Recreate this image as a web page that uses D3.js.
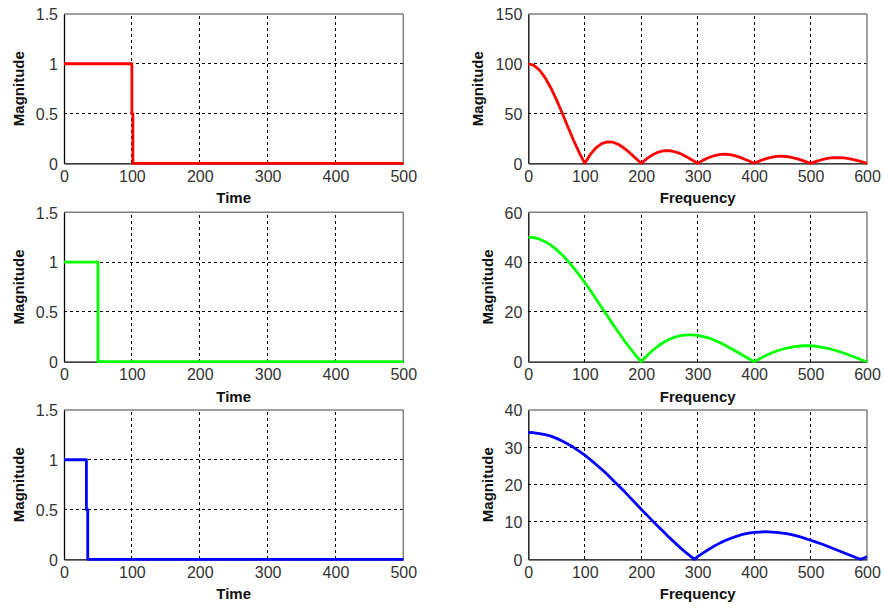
<!DOCTYPE html>
<html><head><meta charset="utf-8">
<script src="https://cdn.jsdelivr.net/npm/d3@7"></script>
<style>
html,body{margin:0;padding:0;background:#fff;}
svg{display:block;}
</style></head>
<body>
<svg id="c" width="885" height="609"></svg>
<script>
// ---------- data ----------
const timeTicks = [0,100,200,300,400,500];
const freqTicks = [0,100,200,300,400,500,600];
const timeYTicks = [0,0.5,1,1.5];
const timeYLabels = ["0","0.5","1","1.5"];

// time-domain pulses (knots)
const timeA = [0,100,100,101.5,101.5,500];
const pulseA = [1,1,0.5,0.5,0,0];
const timeB = [0,50,50,500];
const pulseB = [1,1,0,0];
const timeC = [0,33,33,35,35,500];
const pulseC = [1,1,0.5,0.5,0,0];

// spectra
const freqAB = [0,10,20,30,40,50,60,70,80,90,100,110,120,130,140,150,160,170,180,190,200,
  210,220,230,240,250,260,270,280,290,300,310,320,330,340,350,360,370,380,390,400,
  410,420,430,440,450,460,470,480,490,500,510,520,530,540,550,560,570,580,590,600];
const magA = [100,98.4,93.5,85.8,75.7,63.7,50.5,36.8,23.4,10.9,0,
  8.9,15.6,19.8,21.6,21.2,18.9,15.1,10.4,5.2,0,
  4.7,8.5,11.2,12.6,12.7,11.6,9.5,6.7,3.4,0,
  3.2,5.8,7.8,8.9,9.1,8.4,7.0,4.9,2.5,0,
  2.4,4.5,6.0,6.9,7.1,6.6,5.5,3.9,2.0,0,
  1.9,3.6,4.9,5.6,5.8,5.4,4.5,3.2,1.7,0];
const magB = [50,49.8,49.2,48.2,46.8,45.0,42.9,40.5,37.8,34.9,31.8,
  28.6,25.2,21.8,18.4,15.0,11.7,8.5,5.5,2.6,0,
  2.4,4.5,6.3,7.8,9.0,9.9,10.5,10.8,10.8,10.6,
  10.1,9.5,8.6,7.6,6.4,5.2,3.9,2.6,1.3,0,
  1.2,2.4,3.4,4.3,5.0,5.6,6.0,6.3,6.4,6.4,
  6.2,5.8,5.4,4.8,4.1,3.4,2.5,1.7,0.8,0];
const freqC = [0,10,20,30,40,50,60,70,80,90,100,110,120,130,140,150,160,170,180,190,200,
  210,220,230,240,250,260,270,280,290,294,300,310,320,330,340,350,360,370,380,390,400,
  410,420,430,440,450,460,470,480,490,500,510,520,530,540,550,560,570,580,588,590,600];
const magC = [34,33.9,33.7,33.4,33.0,32.4,31.7,30.9,30.0,29.0,27.9,
  26.7,25.4,24.1,22.7,21.2,19.7,18.2,16.6,15.0,13.4,
  11.9,10.3,8.8,7.3,5.8,4.4,3.0,1.7,0.5,0,0.7,
  1.7,2.7,3.6,4.4,5.1,5.7,6.2,6.7,7.0,7.2,
  7.3,7.4,7.3,7.2,7.0,6.8,6.5,6.1,5.6,5.1,
  4.6,4.1,3.5,2.9,2.3,1.7,1.1,0.5,0,0.1,0.7];

const yTicksA = [0,50,100,150];
const yTicksB = [0,20,40,60];
const yTicksC = [0,10,20,30,40];

// ---------- layout ----------
const svg = d3.select("#c");
svg.append("rect").attr("width",885).attr("height",609).attr("fill","#fff");

const rows = [{top:14,bot:163.3},{top:212.3,bot:361.7},{top:410,bot:559.3}];
const leftX = [64,403.3], rightX = [528.3,867];
const FONT = "Liberation Sans, Arial, sans-serif";

function panel(opt){
  const g = svg.append("g");
  const x = d3.scaleLinear().domain(opt.xDomain).range(opt.xr);
  const y = d3.scaleLinear().domain(opt.yDomain).range([opt.row.bot,opt.row.top]);
  // grid
  opt.xTicks.forEach(t=>{
    if (t===opt.xDomain[0]||t===opt.xDomain[1]) return;
    g.append("line").attr("x1",x(t)).attr("x2",x(t)).attr("y1",y.range()[0]).attr("y2",y.range()[1])
      .attr("stroke","#000").attr("stroke-width",1).attr("stroke-dasharray","3,3").attr("shape-rendering","crispEdges");
  });
  opt.yTicks.forEach(t=>{
    if (t===opt.yDomain[0]||t===opt.yDomain[1]) return;
    g.append("line").attr("x1",opt.xr[0]).attr("x2",opt.xr[1]).attr("y1",y(t)).attr("y2",y(t))
      .attr("stroke","#000").attr("stroke-width",1).attr("stroke-dasharray","3,3").attr("shape-rendering","crispEdges");
  });
  // box: top/right gray
  g.append("line").attr("x1",opt.xr[0]).attr("x2",opt.xr[1]).attr("y1",opt.row.top).attr("y2",opt.row.top)
    .attr("stroke","#808080").attr("stroke-width",1.5);
  g.append("line").attr("x1",opt.xr[1]).attr("x2",opt.xr[1]).attr("y1",opt.row.top).attr("y2",opt.row.bot)
    .attr("stroke","#808080").attr("stroke-width",1.5);
  // axes
  const xAxis = d3.axisBottom(x).tickValues(opt.xTicks).tickSize(0).tickPadding(7).tickFormat(d3.format("d"));
  const gx = g.append("g").attr("transform",`translate(0,${opt.row.bot})`).call(xAxis);
  const yAxis = d3.axisLeft(y).tickValues(opt.yTicks).tickSize(0).tickPadding(6)
    .tickFormat((d,i)=>opt.yLabels ? opt.yLabels[i] : d3.format("d")(d));
  const gy = g.append("g").attr("transform",`translate(${opt.xr[0]},0)`).call(yAxis);
  [gx,gy].forEach(a=>{
    a.select(".domain").attr("stroke","#000").attr("stroke-width",1.3);
    a.selectAll("text").attr("font-family",FONT).attr("font-size",16).attr("fill","#333");
  });
  gy.selectAll("text").attr("dy","0.36em");
  // labels
  g.append("text").attr("x",(opt.xr[0]+opt.xr[1])/2).attr("y",opt.row.bot+40)
    .attr("text-anchor","middle").attr("font-family",FONT)
    .attr("font-weight","bold").attr("font-size",15).attr("fill","#111").text(opt.xLabel);
  g.append("text").attr("transform",`translate(${opt.yLabelX},${(opt.row.top+opt.row.bot)/2}) rotate(-90)`)
    .attr("text-anchor","middle").attr("dy","0.35em").attr("font-family",FONT)
    .attr("font-weight","bold").attr("font-size",15).attr("fill","#111").text("Magnitude");
  // data
  const pts = opt.xs.map((v,i)=>[v,opt.ys[i]]);
  g.append("path").datum(pts)
    .attr("d",d3.line().x(d=>x(d[0])).y(d=>y(d[1])).curve(d3.curveLinear))
    .attr("fill","none").attr("stroke",opt.color).attr("stroke-width",2.8)
    .attr("stroke-linejoin","round").attr("stroke-linecap","butt");
}

const common = {yDomain:[0,1.5], yTicks:timeYTicks, yLabels:timeYLabels, xDomain:[0,500], xTicks:timeTicks, xr:leftX, xLabel:"Time", yLabelX:19};
panel(Object.assign({}, common, {row:rows[0], xs:timeA, ys:pulseA, color:"#ff0000"}));
panel(Object.assign({}, common, {row:rows[1], xs:timeB, ys:pulseB, color:"#00ff00"}));
panel(Object.assign({}, common, {row:rows[2], xs:timeC, ys:pulseC, color:"#0000ff"}));

const fcommon = {xDomain:[0,600], xTicks:freqTicks, xr:rightX, xLabel:"Frequency"};
panel(Object.assign({}, fcommon, {row:rows[0], yDomain:[0,150], yTicks:yTicksA, xs:freqAB, ys:magA, color:"#ff0000", yLabelX:477.5}));
panel(Object.assign({}, fcommon, {row:rows[1], yDomain:[0,60], yTicks:yTicksB, xs:freqAB, ys:magB, color:"#00ff00", yLabelX:487.5}));
panel(Object.assign({}, fcommon, {row:rows[2], yDomain:[0,40], yTicks:yTicksC, xs:freqC, ys:magC, color:"#0000ff", yLabelX:487.5}));
</script>
</body></html>
